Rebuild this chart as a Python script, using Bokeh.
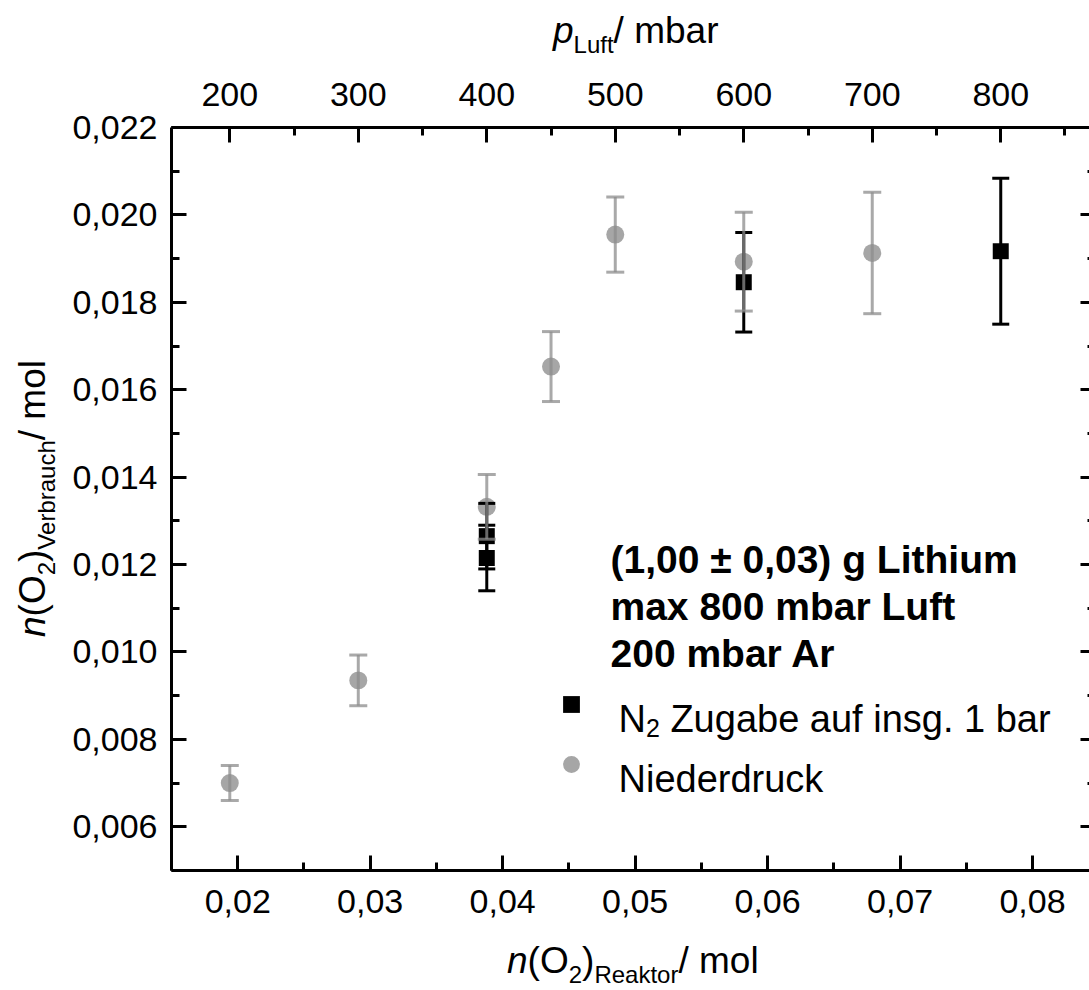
import html
from bokeh.plotting import figure
from bokeh.layouts import column, row
from bokeh.models import (ColumnDataSource, Range1d, LinearAxis, SingleIntervalTicker,
                          CustomJSTickFormatter, Whisker, TeeHead, Label, Legend, LegendItem, Div)
from bokeh.embed import file_html
from bokeh.resources import INLINE

# ---------------- data ----------------
MOL_PER_MBAR = 9.7e-5          # conversion used for the top axis (p_Luft -> n(O2)_Reaktor)

n2_n_reaktor = [0.0388, 0.0388, 0.0582, 0.0776]
n2_n_verbrauch = [0.01265, 0.01215, 0.01846, 0.01917]
n2_err = [0.00075, 0.00075, 0.00114, 0.00167]

nd_n_reaktor = [0.0194, 0.0291, 0.0388, 0.04365, 0.0485, 0.0582, 0.0679]
nd_n_verbrauch = [0.0070, 0.00935, 0.01332, 0.01653, 0.01955, 0.01893, 0.01913]
nd_err = [0.0004, 0.00058, 0.00074, 0.0008, 0.00086, 0.00113, 0.00139]

x_lim = (0.015, 0.0843)
y_lim = (0.005, 0.022)

info_lines = ["(1,00 \u00b1 0,03) g Lithium", "max 800 mbar Luft", "200 mbar Ar"]

FONT = "Liberation Sans"
GRAY = "#a6a6a6"

# ---------------- page geometry ----------------
PAGE_W, PAGE_H = 1089, 990
TOP_H, LEFT_W, BOT_H = 60, 62, 50
FIG_W, FIG_H = PAGE_W - LEFT_W, PAGE_H - TOP_H - BOT_H
FL, FT, FB = 171, 127, 870          # frame left / top / bottom on the page

p = figure(width=FIG_W, height=FIG_H, x_range=Range1d(*x_lim), y_range=Range1d(*y_lim),
           output_backend="svg", toolbar_location=None,
           x_axis_location=None, y_axis_location=None,
           min_border_left=FL - LEFT_W, min_border_right=0,
           min_border_top=FT - TOP_H, min_border_bottom=TOP_H + FIG_H - FB)
p.grid.visible = False
p.outline_line_color = None
p.background_fill_color = "white"
p.border_fill_color = "white"
p.extra_x_ranges = {"p": Range1d(x_lim[0] / MOL_PER_MBAR, x_lim[1] / MOL_PER_MBAR)}

yt = SingleIntervalTicker(interval=0.002, num_minor_ticks=2)
xt = SingleIntervalTicker(interval=0.01, num_minor_ticks=2)
pt = SingleIntervalTicker(interval=100, num_minor_ticks=2)


def style(ax, standoff):
    ax.axis_line_width = 3
    ax.axis_line_color = "black"
    ax.major_tick_in = 15
    ax.major_tick_out = 0
    ax.minor_tick_in = 8
    ax.minor_tick_out = 0
    ax.major_tick_line_width = 3
    ax.minor_tick_line_width = 3
    ax.major_label_text_font = FONT
    ax.major_label_text_font_size = "34px"
    ax.major_label_text_color = "black"
    ax.major_label_standoff = standoff


left = LinearAxis(ticker=yt, formatter=CustomJSTickFormatter(code="return tick.toFixed(3).replace('.', ',');"))
style(left, 14)
p.add_layout(left, "left")

bottom = LinearAxis(ticker=xt, formatter=CustomJSTickFormatter(code="return tick.toFixed(2).replace('.', ',');"))
style(bottom, 19)
p.add_layout(bottom, "below")

top = LinearAxis(x_range_name="p", ticker=pt,
                 formatter=CustomJSTickFormatter(code="return tick.toFixed(0);"))
style(top, 22)
p.add_layout(top, "above")

right = LinearAxis(ticker=yt, formatter=CustomJSTickFormatter(code="return '';"))
style(right, 0)
right.axis_line_color = None
right.major_tick_in = 9
right.minor_tick_in = 2
p.add_layout(right, "right")

# ---------------- data renderers ----------------
src_nd = ColumnDataSource(dict(x=nd_n_reaktor, y=nd_n_verbrauch,
                               lo=[v - e for v, e in zip(nd_n_verbrauch, nd_err)],
                               hi=[v + e for v, e in zip(nd_n_verbrauch, nd_err)]))
src_n2 = ColumnDataSource(dict(x=n2_n_reaktor, y=n2_n_verbrauch,
                               lo=[v - e for v, e in zip(n2_n_verbrauch, n2_err)],
                               hi=[v + e for v, e in zip(n2_n_verbrauch, n2_err)]))

r_nd = p.scatter("x", "y", source=src_nd, marker="circle", size=18, fill_color=GRAY, line_color=None)
r_n2 = p.scatter("x", "y", source=src_n2, marker="square", size=16, fill_color="black", line_color=None)

w_n2 = Whisker(source=src_n2, base="x", upper="hi", lower="lo", dimension="height",
               line_color="black", line_width=3, level="annotation",
               upper_head=TeeHead(size=17, line_width=3, line_color="black"),
               lower_head=TeeHead(size=17, line_width=3, line_color="black"))
p.add_layout(w_n2)
w_nd = Whisker(source=src_nd, base="x", upper="hi", lower="lo", dimension="height",
               line_color="#8c8c8c", line_alpha=0.75, line_width=3, level="annotation",
               upper_head=TeeHead(size=18, line_width=3, line_color="#8c8c8c", line_alpha=0.75),
               lower_head=TeeHead(size=18, line_width=3, line_color="#8c8c8c", line_alpha=0.75))
p.add_layout(w_nd)

# ---------------- in-frame texts ----------------
CW = {' ': 278, '(': 333, ')': 333, '/': 278, ',': 278, '.': 278,
      'a': 556, 'b': 556, 'c': 500, 'd': 556, 'e': 556, 'f': 278, 'g': 556, 'h': 556, 'i': 222,
      'k': 500, 'l': 222, 'm': 833, 'n': 556, 'o': 556, 'p': 556, 'r': 333, 's': 500, 't': 278,
      'u': 556, 'L': 556, 'N': 722, 'O': 778, 'R': 722, 'V': 667, 'Z': 611}


def tw(s, size):
    return sum(CW.get(c, 556) for c in s) / 1000.0 * size


def sx(px):
    return px - FL


def sy(py):
    return FB - py


def label_pieces(parts, x0, y0):
    adv = 0.0
    for text, size, drop in parts:
        lead = len(text) - len(text.lstrip(" "))
        adv += tw(" " * lead, size)
        t = text.lstrip(" ")
        p.add_layout(Label(x=x0 + adv, y=y0 - drop, x_units="screen", y_units="screen", text=t,
                           text_font=FONT, text_font_size=f"{size}px", text_color="black",
                           text_align="left", text_baseline="alphabetic"))
        adv += tw(t, size)


for i, line in enumerate(info_lines):
    p.add_layout(Label(x=sx(610), y=sy(559 + 47 * i), x_units="screen", y_units="screen", text=line,
                       text_font=FONT, text_font_size="39px", text_font_style="bold",
                       text_color="black", text_baseline="alphabetic"))

legend = Legend(items=[LegendItem(label=" ", renderers=[r_n2]), LegendItem(label=" ", renderers=[r_nd])],
                location=(550 - FL, FB - 785), glyph_width=42, glyph_height=42, label_height=42,
                label_width=0, spacing=18, label_standoff=0, padding=0, margin=0,
                border_line_color=None, background_fill_alpha=0,
                label_text_font=FONT, label_text_font_size="38px")
p.add_layout(legend)

label_pieces([("N", 38, 0), ("2", 25, 9), (" Zugabe auf insg. 1 bar", 38, 0)], sx(618), sy(718))
label_pieces([("Niederdruck", 38, 0)], sx(618), sy(778))

# ---------------- axis titles (HTML, with sub-/italic parts) ----------------
MAIN, SUB, DROP = 37, 24, 10
BASE = MAIN / 2 - 1.117 * MAIN / 2 + 0.905 * MAIN     # baseline offset inside line box


def title_html(parts, w, h, left_px, top_px, rotate=False):
    spans = []
    for text, size, italic, drop in parts:
        st = f"font-size:{size}px;"
        if italic:
            st += "font-style:italic;"
        if drop:
            st += f"position:relative;top:{drop}px;line-height:0;"
        spans.append(f'<span style="{st}">{html.escape(text)}</span>')
    rot = "transform:rotate(-90deg);transform-origin:0 0;" if rotate else ""
    inner = (f'<span style="position:absolute;left:{left_px:.1f}px;top:{top_px:.1f}px;white-space:pre;'
             f"font-family:'{FONT}';font-size:{MAIN}px;line-height:{MAIN}px;color:#000;{rot}\">"
             + "".join(spans) + "</span>")
    return f'<div style="position:relative;width:{w}px;height:{h}px;margin:0;padding:0;">{inner}</div>'


top_parts = [("p", MAIN, True, 0), ("Luft", SUB, False, DROP), ("/ mbar", MAIN, False, 0)]
bot_parts = [("n", MAIN, True, 0), ("(O", MAIN, False, 0), ("2", SUB, False, DROP), (")", MAIN, False, 0),
             ("Reaktor", SUB, False, DROP), ("/ mol", MAIN, False, 0)]
left_parts = [("n", MAIN, True, 0), ("(O", MAIN, False, 0), ("2", SUB, False, DROP), (")", MAIN, False, 0),
              ("Verbrauch", SUB, False, DROP), ("/ mol", MAIN, False, 0)]

div_top = Div(text=title_html(top_parts, PAGE_W, TOP_H, 553, 43 - BASE), width=PAGE_W, height=TOP_H,
              margin=(0, 0, 0, 0))
div_bot = Div(text=title_html(bot_parts, PAGE_W, BOT_H, 507, 973 - (TOP_H + FIG_H) - BASE),
              width=PAGE_W, height=BOT_H, margin=(0, 0, 0, 0))
div_left = Div(text=title_html(left_parts, LEFT_W, FIG_H, 45 - BASE, 637 - TOP_H, rotate=True),
               width=LEFT_W, height=FIG_H, margin=(0, 0, 0, 0))

layout = column(div_top, row(div_left, p, spacing=0), div_bot, spacing=0)

open("out.html", "w").write(file_html(layout, INLINE))
